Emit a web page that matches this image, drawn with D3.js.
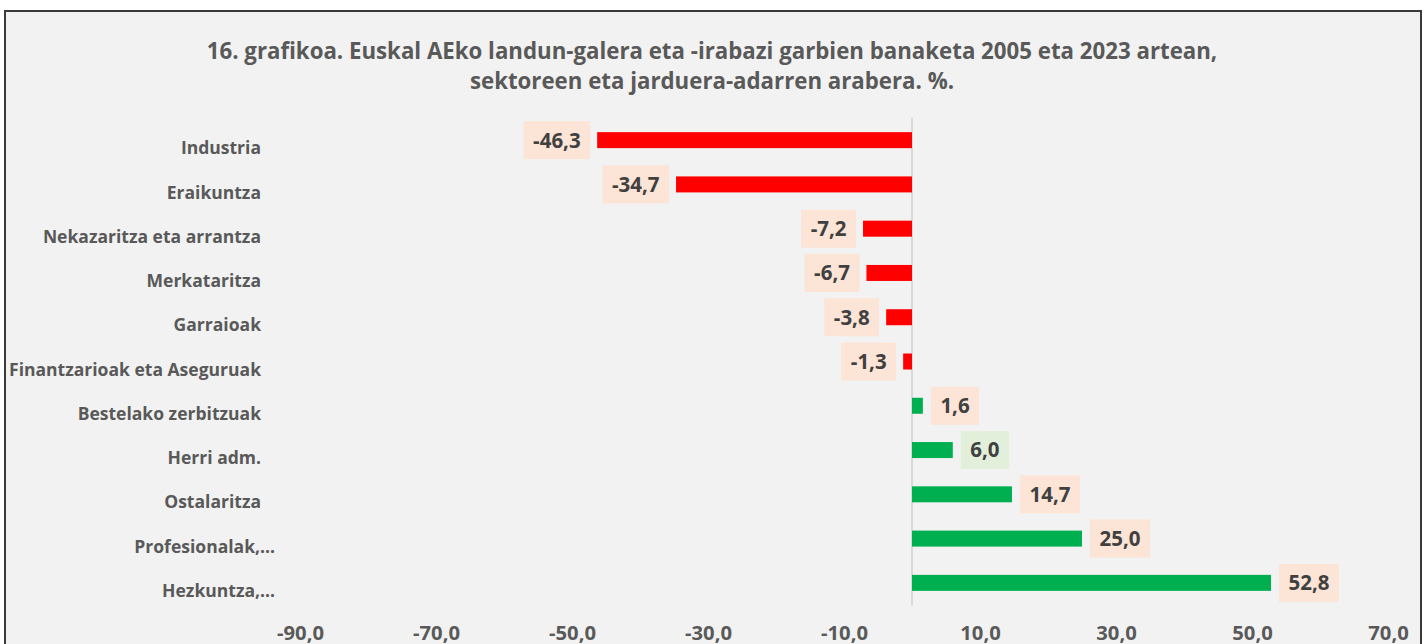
<!DOCTYPE html>
<html>
<head>
<meta charset="utf-8">
<script src="https://cdn.jsdelivr.net/npm/d3@7"></script>
<style>
  body { margin: 0; background: #fff; }
  svg text { font-family: "Open Sans", Lato, sans-serif; font-weight: bold; }
</style>
</head>
<body>
<svg id="chart"></svg>
<script>
var viewWidth = 1425;
var viewHeight = 644;

// data
var categories = ["Industria", "Eraikuntza", "Nekazaritza eta arrantza", "Merkataritza", "Garraioak",
  "Finantzarioak eta Aseguruak", "Bestelako zerbitzuak", "Herri adm.", "Ostalaritza",
  "Profesionalak,…", "Hezkuntza,…"];
var values = [-46.3, -34.7, -7.2, -6.7, -3.8, -1.3, 1.6, 6.0, 14.7, 25.0, 52.8];
var tickValues = [-90, -70, -50, -30, -10, 10, 30, 50, 70];
var titleLines = ["16. grafikoa. Euskal AEko landun-galera eta -irabazi garbien banaketa 2005 eta 2023 artean,",
  "sektoreen eta jarduera-adarren arabera. %."];

var locale = d3.formatLocale({decimal: ",", thousands: ".", grouping: [3], currency: ["", "€"], minus: "-"});
var fmt = locale.format(".1f");

var svg = d3.select("#chart")
    .attr("width", viewWidth)
    .attr("height", viewHeight);

// scale font size of a selection so that its reference node reaches a target width
function fitFont(sel, refNode, target) {
  var base = parseFloat(sel.style("font-size"));
  var w = refNode.getComputedTextLength();
  sel.style("font-size", (base * target / w).toFixed(2) + "px");
}

// chart area + frame
svg.append("rect")
    .attr("x", 5).attr("y", 11)
    .attr("width", 1416).attr("height", 650)
    .attr("fill", "#f2f2f2")
    .attr("stroke", "#3a3a3a")
    .attr("stroke-width", 2);

var titles = svg.selectAll(".title")
    .data(titleLines)
  .enter().append("text")
    .attr("class", "title")
    .attr("x", 712)
    .attr("y", function(d, i) { return 59 + i * 30; })
    .attr("text-anchor", "middle")
    .style("font-size", "20px")
    .style("fill", "#595959")
    .text(function(d) { return d; });
fitFont(titles, titles.node(), 1011);

var x = d3.scaleLinear()
    .domain([-90, 70])
    .range([300, 1388]);

var y = d3.scaleBand()
    .domain(categories)
    .range([118, 605]);

var barH = 16;

// zero line
svg.append("line")
    .attr("x1", x(0)).attr("x2", x(0))
    .attr("y1", 118).attr("y2", 606)
    .attr("stroke", "#d9d9d9")
    .attr("stroke-width", 2);

var rows = categories.map(function(c, i) { return {cat: c, v: values[i]}; });

svg.selectAll(".bar")
    .data(rows)
  .enter().append("rect")
    .attr("class", "bar")
    .attr("x", function(d) { return Math.min(x(0), x(d.v)); })
    .attr("y", function(d) { return y(d.cat) + y.bandwidth() / 2 - barH / 2; })
    .attr("width", function(d) { return Math.abs(x(d.v) - x(0)); })
    .attr("height", barH)
    .attr("fill", function(d) { return d.v < 0 ? "#ff0000" : "#00b050"; });

// data labels with boxes
var lab = svg.selectAll(".lab")
    .data(rows)
  .enter().append("g")
    .attr("class", "lab");

lab.append("rect");
var labText = lab.append("text")
    .attr("text-anchor", "middle")
    .attr("dy", "0.36em")
    .style("font-size", "20px")
    .style("fill", "#404040")
    .text(function(d) { return fmt(d.v); });
fitFont(labText, labText.filter(function(d) { return d.v === 52.8; }).node(), 41);

lab.each(function(d) {
  var g = d3.select(this);
  var w = g.select("text").node().getComputedTextLength() + 19;
  var cy = y(d.cat) + y.bandwidth() / 2;
  var cx = d.v < 0 ? x(d.v) - 7 - w / 2 : x(d.v) + 8 + w / 2;
  g.select("text").attr("x", cx).attr("y", cy);
  g.select("rect")
    .attr("x", cx - w / 2).attr("y", cy - 19)
    .attr("width", w).attr("height", 38)
    .attr("fill", d.v === 6.0 ? "#e2efda" : "#fce4d6");
});

// category labels
var cats = svg.selectAll(".cat")
    .data(rows)
  .enter().append("text")
    .attr("class", "cat")
    .attr("x", function(d) { return /…$/.test(d.cat) ? 275 : 261; })
    .attr("y", function(d) { return y(d.cat) + y.bandwidth() / 2 + 8; })
    .attr("dy", "0.35em")
    .attr("text-anchor", "end")
    .style("font-size", "16px")
    .style("fill", "#595959")
    .text(function(d) { return d.cat; });
fitFont(cats, cats.filter(function(d) { return d.cat === "Finantzarioak eta Aseguruak"; }).node(), 252);

// x axis
var xAxis = d3.axisBottom(x)
    .tickValues(tickValues)
    .tickSize(0)
    .tickPadding(0)
    .tickFormat(fmt);

var gx = svg.append("g")
    .attr("transform", "translate(0,633)")
    .call(xAxis);
gx.select(".domain").remove();
var ticks = gx.selectAll("text")
    .attr("dy", "0.35em")
    .attr("y", 0)
    .attr("font-family", null)
    .attr("font-size", null)
    .style("font-size", "17px")
    .style("fill", "#595959");
fitFont(ticks, ticks.node(), 47);
</script>
</body>
</html>
